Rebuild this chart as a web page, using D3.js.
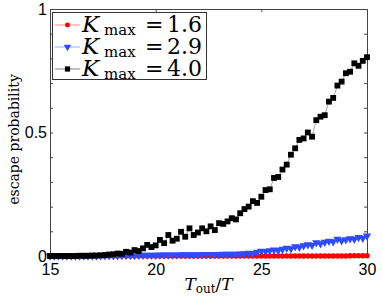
<!DOCTYPE html>
<html>
<head>
<meta charset="utf-8">
<script src="https://cdn.jsdelivr.net/npm/d3@7"></script>
<style>
  html, body { margin: 0; padding: 0; background: #fff; }
  svg { display: block; }
  .tick text { font-family: "Liberation Sans", Arial, sans-serif; font-size: 16px; fill: #000; }
</style>
</head>
<body>
<svg width="382" height="306"></svg>
<script>
// T_out / T sample points
var tValues = [15.0, 15.2, 15.4, 15.6, 15.8, 16.0, 16.2, 16.4, 16.6, 16.8,
  17.0, 17.2, 17.4, 17.6, 17.8, 18.0, 18.2, 18.4, 18.6, 18.8,
  19.0, 19.2, 19.4, 19.6, 19.8, 20.0, 20.2, 20.4, 20.6, 20.8,
  21.0, 21.2, 21.4, 21.6, 21.8, 22.0, 22.2, 22.4, 22.6, 22.8,
  23.0, 23.2, 23.4, 23.6, 23.8, 24.0, 24.2, 24.4, 24.6, 24.8,
  25.0, 25.2, 25.4, 25.6, 25.8, 26.0, 26.2, 26.4, 26.6, 26.8,
  27.0, 27.2, 27.4, 27.6, 27.8, 28.0, 28.2, 28.4, 28.6, 28.8,
  29.0, 29.2, 29.4, 29.6, 29.8, 30.0];

// escape probability, K_max = 1.6
var escK16 = [0, 0, 0, 0, 0, 0, 0, 0, 0, 0,
  0, 0, 0, 0, 0, 0, 0, 0, 0, 0,
  0, 0, 0, 0, 0, 0, 0, 0, 0, 0,
  0, 0, 0, 0, 0, 0, 0, 0, 0, 0,
  0, 0, 0, 0, 0, 0, 0, 0, 0, 0,
  0, 0, 0, 0, 0, 0, 0, 0, 0, 0,
  0, 0, 0, 0, 0, 0, 0, 0, 0, 0,
  0, 0.001, 0.001, 0.001, 0.001, 0.001];

// escape probability, K_max = 2.9
var escK29 = [0, 0, 0, 0, 0, 0, 0, 0, 0, 0,
  0, 0, 0.001, 0.001, 0.001, 0.001, 0.001, 0.002, 0.002, 0.002,
  0.002, 0.003, 0.003, 0.003, 0.003, 0.003, 0.004, 0.004, 0.004, 0.004,
  0.004, 0.005, 0.005, 0.005, 0.005, 0.005, 0.006, 0.006, 0.006, 0.006,
  0.006, 0.007, 0.007, 0.007, 0.007, 0.008, 0.010, 0.012, 0.011, 0.016,
  0.020, 0.019, 0.022, 0.025, 0.023, 0.028, 0.032, 0.030, 0.038, 0.036,
  0.042, 0.046, 0.044, 0.054, 0.050, 0.056, 0.060, 0.058, 0.068, 0.062,
  0.066, 0.070, 0.068, 0.075, 0.072, 0.081];

// escape probability, K_max = 4.0
var escK40 = [0, 0, 0, 0, 0, 0, 0, 0.001, 0.001, 0.001,
  0.002, 0.002, 0.003, 0.004, 0.006, 0.007, 0.010, 0.009, 0.017, 0.014,
  0.024, 0.020, 0.031, 0.045, 0.036, 0.043, 0.065, 0.052, 0.085, 0.062,
  0.070, 0.098, 0.078, 0.112, 0.085, 0.095, 0.112, 0.100, 0.120, 0.105,
  0.133, 0.130, 0.140, 0.153, 0.148, 0.173, 0.190, 0.200, 0.222, 0.215,
  0.240, 0.267, 0.270, 0.316, 0.320, 0.350, 0.370, 0.410, 0.436, 0.470,
  0.476, 0.500, 0.483, 0.550, 0.564, 0.570, 0.625, 0.640, 0.690, 0.706,
  0.740, 0.746, 0.780, 0.770, 0.790, 0.805];

var legendValues = ["1.6", "2.9", "4.0"];
var xTicks = [15, 20, 25, 30];
var yTicks = [0, 0.1, 0.2, 0.3, 0.4, 0.5, 0.6, 0.7, 0.8, 0.9, 1];
var yLabels = { 0: "0", 0.5: "0.5", 1: "1" };

var svg = d3.select("svg");
var plotL = 50, plotR = 367, plotT = 9, plotB = 256;

var xScale = d3.scaleLinear([15, 30], [plotL, plotR]);
var yScale = d3.scaleLinear([0, 1], [plotB, plotT]);

var axisColor = "#444";

// axes, ticks pointing inward
svg.append("g").attr("transform", `translate(0,${plotB})`)
  .call(d3.axisBottom(xScale).tickValues(xTicks).tickSizeInner(-3).tickSizeOuter(0).tickPadding(8).tickFormat(d3.format("d")));
svg.append("g").attr("transform", `translate(0,${plotT})`)
  .call(d3.axisTop(xScale).tickValues(xTicks).tickSizeInner(-3).tickSizeOuter(0).tickFormat(""));
svg.append("g").attr("transform", `translate(${plotL},0)`)
  .call(d3.axisLeft(yScale).tickValues(yTicks).tickSizeInner(-3).tickSizeOuter(0).tickPadding(3)
    .tickFormat(function (d) { return yLabels[Math.round(d * 10) / 10] || ""; }));
svg.append("g").attr("transform", `translate(${plotR},0)`)
  .call(d3.axisRight(yScale).tickValues(yTicks).tickSizeInner(-3).tickSizeOuter(0).tickFormat(""));

svg.selectAll(".domain, .tick line").attr("stroke", axisColor);

// series
var series = [
  { values: escK16, color: "#ff0000", symbol: d3.symbolCircle, size: 24, rotate: 0 },
  { values: escK29, color: "#2f4bff", symbol: d3.symbolTriangle, size: 30, rotate: 180 },
  { values: escK40, color: "#000000", symbol: d3.symbolSquare, size: 34, rotate: 0 }
];

var line = d3.line()
  .x(function (d) { return xScale(d[0]); })
  .y(function (d) { return yScale(d[1]); });

series.forEach(function (s) {
  var pts = tValues.map(function (t, i) { return [t, s.values[i]]; });
  var g = svg.append("g");
  g.append("path")
    .attr("d", line(pts))
    .attr("fill", "none")
    .attr("stroke", s.color)
    .attr("stroke-opacity", 0.6)
    .attr("stroke-width", 0.6);
  g.selectAll("path.mk").data(pts).enter().append("path")
    .attr("class", "mk")
    .attr("d", d3.symbol(s.symbol, s.size))
    .attr("transform", function (d) {
      return `translate(${xScale(d[0])},${yScale(d[1])}) rotate(${s.rotate})`;
    })
    .attr("fill", s.color);
});

// legend
var legend = svg.append("g");
legend.append("rect")
  .attr("x", 52.5).attr("y", 12.5).attr("width", 154).attr("height", 67)
  .attr("fill", "#fff").attr("stroke", "#333").attr("stroke-width", 1);

series.forEach(function (s, i) {
  var cy = 25 + i * 22;
  legend.append("line")
    .attr("x1", 55).attr("x2", 80).attr("y1", cy).attr("y2", cy)
    .attr("stroke", s.color).attr("stroke-opacity", 0.6).attr("stroke-width", 0.8);
  legend.append("path")
    .attr("d", d3.symbol(s.symbol, s.size * 0.8))
    .attr("transform", `translate(67.5,${cy}) rotate(${s.rotate})`)
    .attr("fill", s.color);
  var txt = legend.append("text")
    .attr("y", cy + 7)
    .attr("font-family", "DejaVu Serif, serif")
    .attr("fill", "#000");
  txt.append("tspan").attr("x", 82).attr("font-size", 23).attr("font-style", "italic").text("K");
  txt.append("tspan").attr("x", 104).attr("dy", 3).attr("font-size", 15).text("max");
  txt.append("tspan").attr("x", 145).attr("dy", -3).attr("font-size", 22).text("=");
  txt.append("tspan").attr("x", 167).attr("font-size", 22).text(legendValues[i]);
});

// axis labels
var xl = svg.append("text")
  .attr("x", (plotL + plotR) / 2).attr("y", 290)
  .attr("text-anchor", "middle")
  .attr("font-family", "DejaVu Serif, serif")
  .attr("fill", "#000");
xl.append("tspan").attr("font-size", 17).attr("font-style", "italic").text("T");
xl.append("tspan").attr("font-size", 12).attr("dy", 3).text("out");
xl.append("tspan").attr("font-size", 17).attr("dy", -3).text("/");
xl.append("tspan").attr("font-size", 17).attr("font-style", "italic").text("T");

svg.append("text")
  .attr("transform", `translate(19,${(plotT + plotB) / 2 + 7}) rotate(-90)`)
  .attr("text-anchor", "middle")
  .attr("font-family", "DejaVu Serif, serif")
  .attr("font-size", 14)
  .attr("fill", "#000")
  .text("escape probability");
</script>
</body>
</html>
